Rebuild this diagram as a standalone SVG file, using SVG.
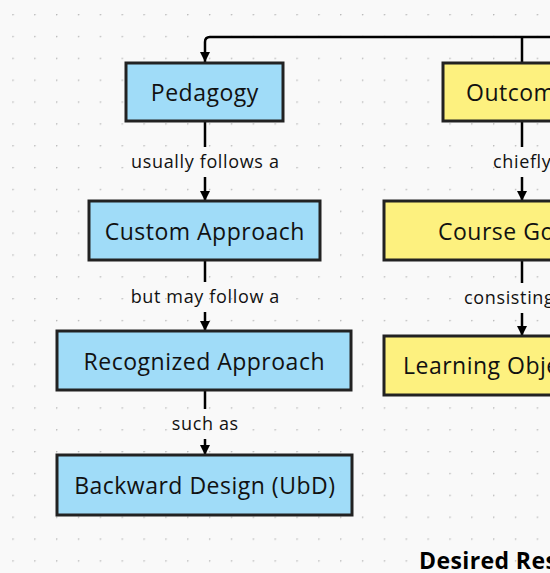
<svg xmlns="http://www.w3.org/2000/svg" width="550" height="573" viewBox="0 0 550 573">
<defs>
<pattern id="dots" x="12.3" y="14" width="21.85" height="21.85" patternUnits="userSpaceOnUse">
<circle cx="0.6" cy="0.6" r="0.9" fill="#b8b8b8"/>
</pattern>
<marker id="arr" viewBox="0 0 10 10" refX="10" refY="5" markerWidth="4" markerHeight="4" markerUnits="strokeWidth" orient="auto">
<path d="M0,0 L10,5 L0,10 z" fill="#000"/>
</marker>
<style>
.blue{fill:#a0dcf8;stroke:#222;stroke-width:3}
.yellow{fill:#fdf17f;stroke:#222;stroke-width:3}
.nt{font-family:"Open Sans","Liberation Sans",sans-serif;font-size:23px;letter-spacing:0.5px;fill:#111}
.lt{font-family:"Open Sans","Liberation Sans",sans-serif;font-size:18px;letter-spacing:0.65px;fill:#111}
.ln{fill:none;stroke:#000;stroke-width:2.5}
.title{font-family:"Open Sans","Liberation Sans",sans-serif;font-size:23px;font-weight:bold;letter-spacing:0.4px;fill:#000}
</style>
</defs>
<rect width="550" height="573" fill="#f9f9f9"/>
<rect width="550" height="573" fill="url(#dots)"/>
<g id="connectors">
<path class="ln" d="M560,37 L210,37 Q205,37 205,42 L205,62" marker-end="url(#arr)"/>
<path class="ln" d="M522,37 L522,62"/>
<path class="ln" d="M205,122 L205,147"/>
<path class="ln" d="M205,177 L205,201" marker-end="url(#arr)"/>
<path class="ln" d="M205,261 L205,282"/>
<path class="ln" d="M205,312 L205,331" marker-end="url(#arr)"/>
<path class="ln" d="M205,391 L205,409"/>
<path class="ln" d="M205,439 L205,455" marker-end="url(#arr)"/>
<path class="ln" d="M522,122 L522,147"/>
<path class="ln" d="M522,177 L522,201" marker-end="url(#arr)"/>
<path class="ln" d="M522,261 L522,283"/>
<path class="ln" d="M522,313 L522,336" marker-end="url(#arr)"/>
<text class="lt" x="205.3" y="168" text-anchor="middle">usually follows a</text>
<text class="lt" x="205.3" y="303" text-anchor="middle">but may follow a</text>
<text class="lt" x="205.3" y="430" text-anchor="middle">such as</text>
<text class="lt" x="493" y="168">chiefly</text>
<text class="lt" x="464" y="304">consisting</text>
</g>
<g id="pedagogy">
<rect class="blue" x="126" y="63" width="157" height="58"/>
<text class="nt" x="204.8" y="101" text-anchor="middle">Pedagogy</text>
</g>
<g id="custom">
<rect class="blue" x="89" y="201" width="231" height="59"/>
<text class="nt" x="204.8" y="240" text-anchor="middle">Custom Approach</text>
</g>
<g id="recognized">
<rect class="blue" x="57" y="331" width="294" height="59"/>
<text class="nt" x="204.3" y="370" text-anchor="middle">Recognized Approach</text>
</g>
<g id="backward">
<rect class="blue" x="57" y="455" width="295" height="60"/>
<text class="nt" x="204.8" y="494" text-anchor="middle">Backward Design (UbD)</text>
</g>
<g id="outcomes">
<rect class="yellow" x="443" y="63" width="160" height="58"/>
<text class="nt" x="466" y="101">Outcomes</text>
</g>
<g id="goals">
<rect class="yellow" x="384" y="201" width="280" height="59"/>
<text class="nt" x="438" y="240">Course Goals</text>
</g>
<g id="objectives">
<rect class="yellow" x="384" y="336" width="280" height="59"/>
<text class="nt" x="403" y="374">Learning Objectives</text>
</g>
<g id="desired">
<text class="title" x="419" y="569">Desired Results</text>
</g>
</svg>
